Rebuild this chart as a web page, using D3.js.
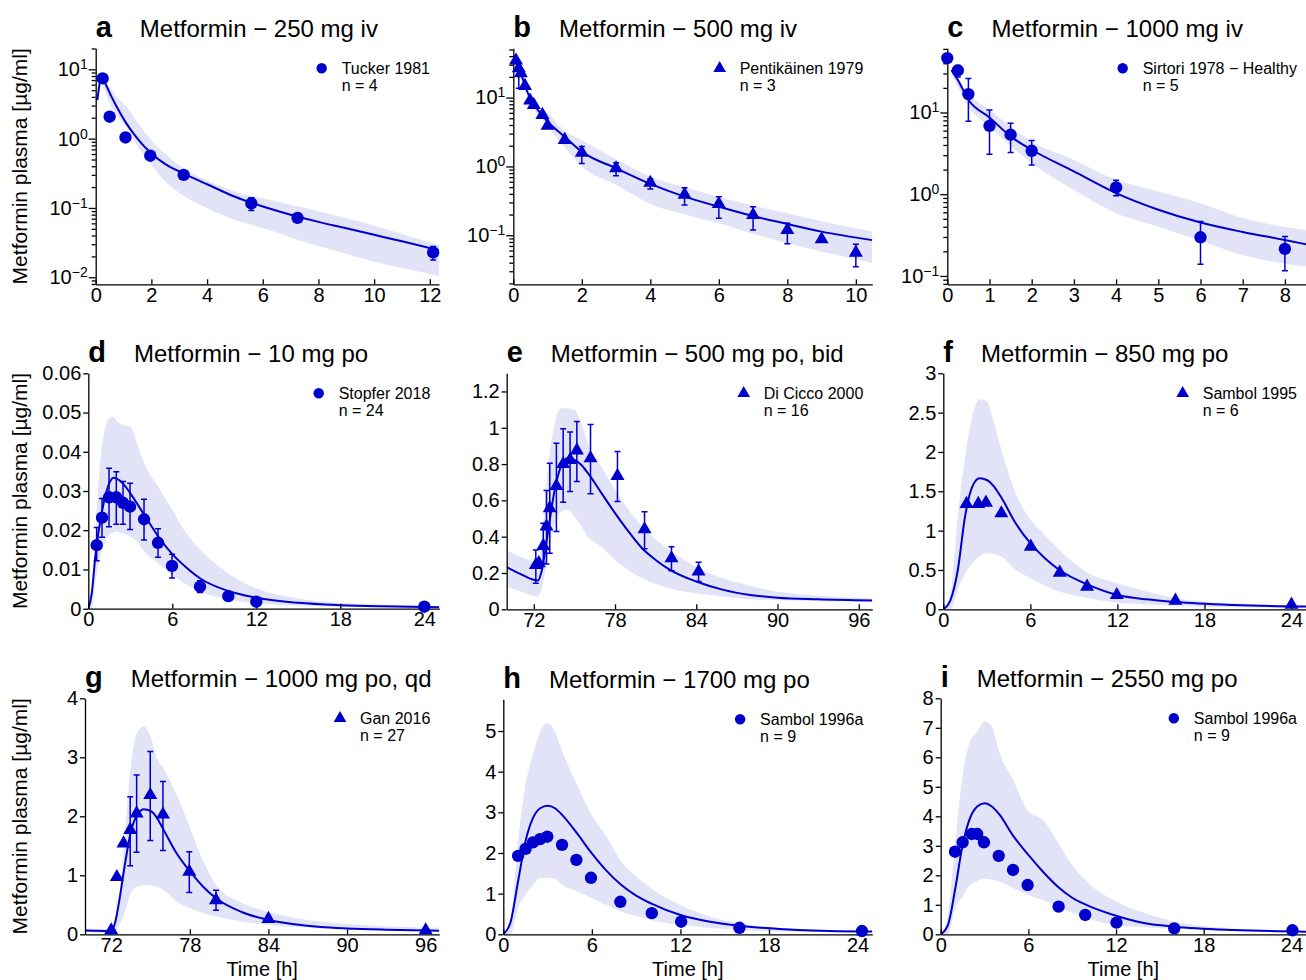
<!DOCTYPE html>
<html>
<head>
<meta charset="utf-8">
<script src="https://d3js.org/d3.v7.min.js"></script>
<style>
  body { margin: 0; background: #fff; }
  text { font-family: "Liberation Sans", Arial, Helvetica, sans-serif; }
</style>
</head>
<body>
<svg id="fig" width="1306" height="980"></svg>
<script>
// ---- data ----
// observed: [time, value, errLow, errHigh]  (no error bar -> only 2 entries)
// sim: [time, median], band: [time, low, high]

const letters = ["a", "b", "c", "d", "e", "f", "g", "h", "i"];
const titles = [
  "Metformin \u2212 250 mg iv", "Metformin \u2212 500 mg iv", "Metformin \u2212 1000 mg iv",
  "Metformin \u2212 10 mg po", "Metformin \u2212 500 mg po, bid", "Metformin \u2212 850 mg po",
  "Metformin \u2212 1000 mg po, qd", "Metformin \u2212 1700 mg po", "Metformin \u2212 2550 mg po"
];
const studies = ["Tucker 1981", "Pentik\u00e4inen 1979", "Sirtori 1978 \u2212 Healthy", "Stopfer 2018",
  "Di Cicco 2000", "Sambol 1995", "Gan 2016", "Sambol 1996a", "Sambol 1996a"];
const nLabels = ["n = 4", "n = 3", "n = 5", "n = 24", "n = 16", "n = 6", "n = 27", "n = 9", "n = 9"];
const markers = ["circle", "tri", "circle", "circle", "tri", "tri", "tri", "circle", "circle"];

const yTitle = "Metformin plasma [\u00b5g/ml]";
const xTitle = "Time [h]";

// tick values and labels
const xTicksA = [0, 2, 4, 6, 8, 10, 12];
const xTicksB = [0, 2, 4, 6, 8, 10];
const xTicksC = [0, 1, 2, 3, 4, 5, 6, 7, 8];
const xTicks24 = [0, 6, 12, 18, 24];
const xTicks72 = [72, 78, 84, 90, 96];
const yTicksA = [0.01, 0.1, 1, 10];
const yExpA = ["\u22122", "\u22121", "0", "1"];
const yTicksB = [0.1, 1, 10];
const yExpB = ["\u22121", "0", "1"];
const yTicksC = [0.1, 1, 10];
const yExpC = ["\u22121", "0", "1"];
const yTicksD = [0, 0.01, 0.02, 0.03, 0.04, 0.05, 0.06];
const yLabelsD = ["0", "0.01", "0.02", "0.03", "0.04", "0.05", "0.06"];
const yTicksE = [0, 0.2, 0.4, 0.6, 0.8, 1, 1.2];
const yLabelsE = ["0", "0.2", "0.4", "0.6", "0.8", "1", "1.2"];
const yTicksF = [0, 0.5, 1, 1.5, 2, 2.5, 3];
const yLabelsF = ["0", "0.5", "1", "1.5", "2", "2.5", "3"];
const yTicksG = [0, 1, 2, 3, 4];
const yLabelsG = ["0", "1", "2", "3", "4"];
const yTicksH = [0, 1, 2, 3, 4, 5];
const yLabelsH = ["0", "1", "2", "3", "4", "5"];
const yTicksI = [0, 1, 2, 3, 4, 5, 6, 7, 8];
const yLabelsI = ["0", "1", "2", "3", "4", "5", "6", "7", "8"];

// a - 250 mg iv
const obsA = [[0.25, 7.4], [0.5, 2.07], [1.07, 1.04], [1.96, 0.567], [3.16, 0.30],
  [5.59, 0.116, 0.092, 0.14], [7.25, 0.072], [12.12, 0.0229, 0.0178, 0.0277]];
const simA = [[0.06, 3.6], [0.21, 7.6], [0.4, 5.6], [0.57, 4.0], [0.75, 2.9], [1.1, 1.66], [1.5, 1.0],
  [2, 0.61], [2.5, 0.43], [3.15, 0.316], [4, 0.22], [5, 0.145], [6, 0.105], [7, 0.08], [8, 0.063],
  [9, 0.051], [10, 0.041], [11, 0.033], [12.33, 0.0245]];
const bandA = [[0.21, 6.6, 8.0], [0.5, 3.3, 5.6], [0.75, 2.2, 4.0], [1.1, 1.5, 2.9], [1.5, 0.78, 1.7],
  [2, 0.42, 0.95], [2.5, 0.24, 0.6], [3, 0.165, 0.41], [4, 0.1, 0.25], [5.2, 0.063, 0.162],
  [6.1, 0.05, 0.135], [7.3, 0.034, 0.105], [8.5, 0.025, 0.08], [9.7, 0.018, 0.06],
  [11, 0.0136, 0.042], [12.33, 0.0104, 0.029]];

// b - 500 mg iv
const obsB = [[0.08, 34.5], [0.16, 26.7, 13.7, 31.6], [0.22, 22.6], [0.34, 14.8], [0.49, 9.05], [0.6, 7.8],
  [0.85, 5.6], [1.0, 3.9], [1.5, 2.43], [2, 1.58, 1.1, 1.94], [3, 0.94, 0.73, 1.13], [4, 0.58, 0.47, 0.66],
  [5, 0.39, 0.275, 0.49], [6, 0.285, 0.177, 0.364], [7, 0.197, 0.119, 0.26], [8, 0.119, 0.075, 0.149],
  [9, 0.0875], [10, 0.056, 0.035, 0.074]];
const simB = [[0.02, 40], [0.1, 30], [0.2, 23.9], [0.35, 14.5], [0.5, 9.6], [0.75, 6.3], [1, 4.5],
  [1.5, 2.7], [2, 1.64], [3, 0.94], [4, 0.557], [5, 0.364], [6, 0.26], [7, 0.19], [8, 0.146],
  [9, 0.113], [10.48, 0.085]];
const bandB = [[0.02, 36, 44], [0.25, 17, 22], [0.5, 8.5, 10.5], [1, 3.8, 6.0], [1.5, 1.9, 3.3],
  [2, 1.0, 2.4], [3, 0.54, 1.27], [4, 0.285, 0.71], [5, 0.2, 0.5], [6, 0.149, 0.364],
  [7, 0.105, 0.27], [8, 0.0766, 0.209], [9, 0.058, 0.16], [10.48, 0.0398, 0.113]];

// c - 1000 mg iv
const obsC = [[0, 46.3], [0.25, 32.7, 27.1, 37.7], [0.5, 16.8, 7.8, 26], [1, 6.87, 3.09, 10.7],
  [1.5, 5.34, 3.24, 7.4], [2, 3.4, 2.28, 4.54], [4, 1.21, 0.955, 1.48], [6, 0.297, 0.139, 0.462],
  [8, 0.214, 0.116, 0.303]];
const simC = [[0.1, 33], [0.25, 25], [0.5, 14.3], [1, 8.7], [1.5, 5.1], [2, 3.5], [3, 1.9], [4, 1.03],
  [5, 0.645], [6, 0.45], [7, 0.345], [8, 0.275], [8.5, 0.244]];
const bandC = [[0.1, 30, 36.6], [0.5, 11.8, 17.2], [1, 6.7, 10.8], [2, 2.4, 4.4], [3, 1.13, 2.63],
  [4, 0.585, 1.5], [5, 0.4, 1.08], [6, 0.27, 0.776], [7, 0.18, 0.51], [8.5, 0.13, 0.366]];

// d - 10 mg po
const obsD = [[0.6, 0.0162, 0.0122, 0.0207], [0.98, 0.0232, 0.0182, 0.0281], [1.48, 0.0284, 0.0209, 0.0358],
  [2.0, 0.0284, 0.0215, 0.0349], [2.48, 0.027, 0.0215, 0.0324], [2.98, 0.026, 0.0202, 0.032],
  [3.98, 0.0228, 0.0175, 0.0279], [4.98, 0.0168, 0.0131, 0.0204], [5.98, 0.0109, 0.0078, 0.0139],
  [7.98, 0.0056, 0.0041, 0.0071], [10, 0.0032, 0.0020, 0.0043], [12, 0.0018], [24, 0.0005]];
const simD = [[0, 0], [0.25, 0.004], [0.5, 0.0133], [1, 0.0252], [1.5, 0.032], [1.8, 0.0334], [2, 0.0332],
  [2.5, 0.0318], [3, 0.0294], [4, 0.0239], [5, 0.0184], [6, 0.0139], [7, 0.0105], [8, 0.0077],
  [10, 0.0045], [12, 0.0028], [15, 0.0015], [18, 0.0009], [21, 0.0006], [25.07, 0.0004]];
const bandD = [[0, 0, 0], [0.25, 0, 0.003], [0.5, 0.0065, 0.02], [1, 0.015, 0.042], [1.5, 0.0188, 0.0485],
  [1.8, 0.0194, 0.049], [2, 0.0196, 0.048], [2.5, 0.0192, 0.0468], [3, 0.0184, 0.0464], [3.5, 0.017, 0.042],
  [4, 0.0145, 0.037], [5, 0.0116, 0.0311], [6, 0.0086, 0.0252], [7, 0.0062, 0.0192], [8, 0.0043, 0.015],
  [10, 0.0024, 0.009], [12, 0.0014, 0.0052], [15, 0.0008, 0.0026], [18, 0.0005, 0.0015], [25.07, 0.0002, 0.0007]];

// e - 500 mg po bid
const obsE = [[72.15, 0.244, 0.143, 0.327], [72.37, 0.254], [72.7, 0.349, 0.254, 0.474],
  [72.94, 0.456, 0.25, 0.654], [73.18, 0.557, 0.309, 0.805], [73.67, 0.68, 0.428, 0.915],
  [74.17, 0.80, 0.59, 0.994], [74.68, 0.823, 0.649, 0.976], [75.18, 0.875, 0.704, 1.035],
  [76.19, 0.832, 0.636, 1.018], [78.18, 0.735, 0.594, 0.869], [80.18, 0.441, 0.333, 0.538],
  [82.17, 0.281, 0.213, 0.345], [84.17, 0.208, 0.153, 0.259]];
const simE = [[70, 0.232], [71, 0.195], [72.3, 0.158], [72.6, 0.217], [73, 0.40], [73.5, 0.64], [74, 0.786],
  [74.5, 0.832], [75, 0.823], [75.5, 0.796], [76, 0.75], [77, 0.64], [78, 0.53], [79, 0.428], [80, 0.336],
  [81, 0.272], [82, 0.22], [84, 0.153], [86, 0.107], [88, 0.079], [90, 0.064], [93, 0.055], [97, 0.048]];
const bandE = [[70, 0.125, 0.327], [71, 0.1, 0.29], [72.3, 0.07, 0.263], [72.6, 0.12, 0.4], [73, 0.272, 0.75],
  [73.5, 0.456, 1.007], [74, 0.538, 1.108], [74.5, 0.548, 1.108], [75, 0.511, 1.099], [75.5, 0.46, 1.025],
  [76, 0.40, 0.915], [77, 0.345, 0.786], [78, 0.272, 0.658], [79, 0.215, 0.548], [80, 0.171, 0.456],
  [82, 0.116, 0.327], [84, 0.088, 0.235], [86, 0.07, 0.171], [88, 0.055, 0.13], [90, 0.05, 0.097],
  [97, 0.042, 0.061]];

// f - 850 mg po
const obsF = [[1.6, 1.34], [2.41, 1.34], [2.94, 1.356], [4.0, 1.22], [6.03, 0.797], [8.03, 0.466],
  [9.91, 0.288], [11.96, 0.182], [16.0, 0.11], [24, 0.059]];
const simF = [[0, 0], [0.5, 0.12], [1, 0.5], [1.5, 1.18], [2, 1.56], [2.5, 1.665], [3, 1.644], [3.5, 1.56],
  [4, 1.42], [5, 1.09], [6, 0.84], [7, 0.648], [8, 0.5], [10, 0.31], [12, 0.182], [14, 0.127],
  [16, 0.093], [20, 0.055], [25, 0.034]];
const bandF = [[0, 0, 0], [0.5, 0, 0.2], [1, 0.246, 1.18], [1.5, 0.458, 1.94], [2, 0.585, 2.45],
  [2.5, 0.67, 2.67], [3, 0.712, 2.64], [3.5, 0.7, 2.36], [4, 0.67, 2.03], [5, 0.5, 1.47], [6, 0.394, 1.14],
  [7, 0.3, 0.945], [8, 0.225, 0.754], [10, 0.14, 0.458], [12, 0.085, 0.33], [14, 0.06, 0.225],
  [16, 0.042, 0.14], [20, 0.025, 0.076], [25, 0.017, 0.042]];

// g - 1000 mg po qd
const obsG = [[72, 0.068], [72.43, 0.97], [72.94, 1.54], [73.45, 1.77, 1.16, 2.33], [73.94, 2.05, 1.39, 2.70],
  [74.98, 2.36, 1.59, 3.10], [75.95, 2.03, 1.42, 2.59], [77.96, 1.06, 0.71, 1.40], [80.0, 0.58, 0.407, 0.746],
  [84, 0.26], [96, 0.068]];
const simG = [[70, 0.065], [71, 0.06], [72, 0.05], [72.3, 0.2], [72.6, 0.55], [73, 1.12], [73.5, 1.74],
  [74, 2.03], [74.5, 2.12], [75, 2.09], [75.5, 1.97], [76, 1.77], [77, 1.37], [78, 1.07], [79, 0.81],
  [80, 0.61], [82, 0.373], [84, 0.243], [86, 0.17], [88, 0.124], [90, 0.1], [93, 0.079], [97.04, 0.062]];
const bandG = [[70, 0.045, 0.1], [72, 0.023, 0.09], [72.5, 0.1, 0.44], [73, 0.356, 1.57], [73.5, 0.695, 2.87],
  [74, 0.81, 3.43], [74.5, 0.836, 3.52], [75, 0.836, 3.35], [75.5, 0.8, 2.98], [76, 0.75, 2.81],
  [77, 0.55, 2.36], [78, 0.44, 1.82], [79, 0.36, 1.25], [80, 0.30, 0.84], [82, 0.215, 0.53],
  [84, 0.158, 0.38], [88, 0.10, 0.215], [92, 0.075, 0.147], [97.04, 0.056, 0.113]];

// h - 1700 mg po
const obsH = [[1.0, 1.93], [1.51, 2.10], [2.01, 2.26], [2.49, 2.34], [2.98, 2.40], [3.98, 2.20], [4.95, 1.83],
  [5.94, 1.39], [7.93, 0.80], [10.06, 0.52], [12.05, 0.31], [16.0, 0.16], [24.3, 0.08]];
const simH = [[0, 0], [0.5, 0.31], [1, 1.3], [1.5, 2.28], [2, 2.85], [2.5, 3.10], [3, 3.16], [3.5, 3.10],
  [4, 2.93], [5, 2.48], [6, 1.99], [7, 1.56], [8, 1.21], [9, 0.95], [10, 0.76], [12, 0.475], [14, 0.31],
  [16, 0.213], [20, 0.107], [25, 0.066]];
const bandH = [[0, 0, 0], [0.5, 0, 0.39], [1, 0.64, 2.28], [1.5, 0.97, 3.67], [2, 1.21, 4.41], [2.5, 1.38, 4.98],
  [3, 1.39, 5.19], [3.5, 1.36, 4.98], [4, 1.21, 4.49], [5, 1.05, 3.67], [6, 0.885, 2.93], [7, 0.72, 2.4],
  [8, 0.557, 1.79], [9, 0.45, 1.42], [10, 0.352, 1.13], [12, 0.23, 0.72], [14, 0.16, 0.43],
  [16, 0.107, 0.27], [20, 0.06, 0.13], [25, 0.04, 0.066]];

// i - 2550 mg po
const obsI = [[0.98, 2.80], [1.5, 3.12], [2.12, 3.40], [2.5, 3.40], [2.96, 3.12], [3.97, 2.66], [4.95, 2.18],
  [5.95, 1.67], [8.07, 0.94], [9.89, 0.655], [12.03, 0.395], [15.98, 0.203], [24.07, 0.136]];
const simI = [[0, 0], [0.5, 0.32], [1, 1.56], [1.5, 3.03], [2, 3.93], [2.5, 4.33], [3, 4.44], [3.5, 4.33],
  [4, 4.07], [5, 3.31], [6, 2.69], [7, 2.12], [8, 1.62], [9, 1.24], [10, 0.99], [12, 0.63], [14, 0.373],
  [16, 0.26], [20, 0.147], [25, 0.09]];
const bandI = [[0, 0, 0], [0.5, 0, 0.66], [1, 0.88, 3.14], [1.5, 1.28, 5.4], [2, 1.67, 6.53], [2.5, 1.81, 6.87],
  [3, 1.88, 7.21], [3.5, 1.85, 7.04], [4, 1.79, 6.19], [5, 1.56, 5.18], [6, 1.33, 4.16], [7, 1.16, 3.88],
  [8, 0.94, 3.14], [9, 0.73, 2.35], [10, 0.54, 1.79], [12, 0.32, 1.11], [14, 0.24, 0.71], [16, 0.18, 0.43],
  [20, 0.11, 0.2], [25, 0.068, 0.113]];

// ---- layout ----
const blue = "#0000cd";
const bandFill = "#e2e3f7";

// box = [left, right, top, bottom] in px
var panels = [
  { box: [95.7, 439, 48.3, 284.3], log: true, xDomain: [0, 12.33], yDomain: [0.00792, 20.1], xTicks: xTicksA, yTicks: yTicksA, yLabels: yExpA, obs: obsA, sim: simA, band: bandA },
  { box: [513.3, 872.3, 48.3, 284.3], log: true, xDomain: [0, 10.48], yDomain: [0.0194, 52], xTicks: xTicksB, yTicks: yTicksB, yLabels: yExpB, obs: obsB, sim: simB, band: bandB },
  { box: [947.3, 1306, 48.3, 284.3], log: true, xDomain: [0, 8.5], yDomain: [0.079, 61], xTicks: xTicksC, yTicks: yTicksC, yLabels: yExpC, obs: obsC, sim: simC, band: bandC },
  { box: [88.3, 439.3, 373.3, 608.7], log: false, xDomain: [0, 25.07], yDomain: [0, 0.06], xTicks: xTicks24, yTicks: yTicksD, yLabels: yLabelsD, obs: obsD, sim: simD, band: bandD },
  { box: [506.7, 872.3, 373.3, 609.3], log: false, xDomain: [70, 97], yDomain: [0, 1.3], xTicks: xTicks72, yTicks: yTicksE, yLabels: yLabelsE, obs: obsE, sim: simE, band: bandE },
  { box: [943.3, 1306, 373.3, 609.3], log: false, xDomain: [0, 25], yDomain: [0, 3], xTicks: xTicks24, yTicks: yTicksF, yLabels: yLabelsF, obs: obsF, sim: simF, band: bandF },
  { box: [85, 439.3, 698.3, 934.3], log: false, xDomain: [70, 97.04], yDomain: [0, 4], xTicks: xTicks72, yTicks: yTicksG, yLabels: yLabelsG, obs: obsG, sim: simG, band: bandG },
  { box: [503.3, 872.3, 699.3, 934.3], log: false, xDomain: [0, 25], yDomain: [0, 5.78], xTicks: xTicks24, yTicks: yTicksH, yLabels: yLabelsH, obs: obsH, sim: simH, band: bandH },
  { box: [940.7, 1306, 698.3, 934.3], log: false, xDomain: [0, 25], yDomain: [0, 8], xTicks: xTicks24, yTicks: yTicksI, yLabels: yLabelsI, obs: obsI, sim: simI, band: bandI }
];

let svg = d3.select("#fig");
svg.append("rect").attr("width", 1306).attr("height", 980).attr("fill", "#fff");

panels.forEach(drawPanel);

function styleAxis(sel, size) {
  sel.attr("font-size", size).attr("font-family", '"Liberation Sans", Arial, sans-serif');
  sel.selectAll("path, line").attr("stroke", "#000").attr("stroke-width", 1.3);
  sel.selectAll("text").attr("fill", "#000");
}

function drawPanel(p, i) {
  let [L, R, T, B] = p.box;
  let x = d3.scaleLinear().domain(p.xDomain).range([L, R]);
  let y = (p.log ? d3.scaleLog() : d3.scaleLinear()).domain(p.yDomain).range([B, T]);
  let g = svg.append("g").attr("class", "panel-" + letters[i]);

  g.append("clipPath").attr("id", "clip" + i)
    .append("rect").attr("x", L).attr("y", T).attr("width", R - L).attr("height", B - T);

  // prediction band + median curve
  g.append("path").datum(p.band)
    .attr("clip-path", `url(#clip${i})`)
    .attr("fill", bandFill)
    .attr("d", d3.area().x(d => x(d[0])).y0(d => y(d[1])).y1(d => y(d[2])).curve(d3.curveMonotoneX));

  g.append("path").datum(p.sim)
    .attr("clip-path", `url(#clip${i})`)
    .attr("fill", "none")
    .attr("stroke", blue)
    .attr("stroke-width", 2)
    .attr("d", d3.line().x(d => x(d[0])).y(d => y(d[1])).curve(d3.curveMonotoneX));

  // x axis, ticks point inward
  let xa = g.append("g").attr("transform", `translate(0,${B})`)
    .call(d3.axisBottom(x).tickValues(p.xTicks).tickFormat(d => d).tickSizeInner(-5).tickSizeOuter(0).tickPadding(3));
  styleAxis(xa, 20);

  // y axis
  if (p.log) {
    let minor = y.ticks().filter(v => Math.abs(Math.log10(v) - Math.round(Math.log10(v))) > 1e-6);
    let ym = g.append("g").attr("transform", `translate(${L},0)`)
      .call(d3.axisLeft(y).tickValues(minor).tickFormat("").tickSize(4).tickSizeOuter(0));
    ym.select(".domain").remove();
    styleAxis(ym, 20);
    let ya = g.append("g").attr("transform", `translate(${L},0)`)
      .call(d3.axisLeft(y).tickValues(p.yTicks).tickFormat("").tickSize(7).tickSizeOuter(0).tickPadding(1));
    styleAxis(ya, 20);
    ya.selectAll(".tick text").each(function (d, k) {
      let el = d3.select(this);
      el.append("tspan").text("10");
      el.append("tspan").attr("dy", "-0.5em").attr("font-size", 14).text(p.yLabels[k]);
    });
  } else {
    let ya = g.append("g").attr("transform", `translate(${L},0)`)
      .call(d3.axisLeft(y).tickValues(p.yTicks).tickFormat((d, k) => p.yLabels[k]).tickSize(5).tickSizeOuter(0).tickPadding(2));
    styleAxis(ya, 20);
  }

  // error bars
  let withErr = p.obs.filter(d => d.length > 2);
  g.append("g").attr("stroke", blue).attr("stroke-width", 1.5).attr("fill", "none")
    .selectAll("path")
    .data(withErr)
    .join("path")
    .attr("d", d => {
      let cx = x(d[0]), lo = y(d[2]), hi = y(d[3]);
      return `M${cx - 3},${lo}H${cx + 3}M${cx},${lo}V${hi}M${cx - 3},${hi}H${cx + 3}`;
    });

  // observed markers
  let isTri = markers[i] === "tri";
  let sym = d3.symbol().type(isTri ? d3.symbolTriangle : d3.symbolCircle).size(isTri ? 85 : 120);
  g.append("g").selectAll("path")
    .data(p.obs)
    .join("path")
    .attr("transform", d => `translate(${x(d[0])},${y(d[1])})`)
    .attr("d", sym)
    .attr("fill", blue);

  // panel letter + title
  let letter = g.append("text")
    .attr("x", L).attr("y", T - 11.5)
    .attr("font-size", 29).attr("font-weight", "bold")
    .text(letters[i]);
  let lw = letter.node().getComputedTextLength();
  g.append("text")
    .attr("x", L + lw + 28).attr("y", T - 11.5)
    .attr("font-size", 24)
    .text(titles[i]);

  // legend (right aligned)
  let t1 = g.append("text").attr("y", T + 25.5).attr("font-size", 16).text(studies[i]);
  let w = t1.node().getComputedTextLength();
  let tx = R - 9 - w;
  t1.attr("x", tx);
  g.append("text").attr("x", tx).attr("y", T + 43).attr("font-size", 16).text(nLabels[i]);
  let legSym = d3.symbol().type(isTri ? d3.symbolTriangle : d3.symbolCircle).size(isTri ? 70 : 85);
  g.append("path")
    .attr("transform", `translate(${tx - 20},${T + 20})`)
    .attr("d", legSym)
    .attr("fill", blue);

  // axis titles
  if (i % 3 === 0) {
    g.append("text")
      .attr("transform", `translate(27,${(T + B) / 2}) rotate(-90)`)
      .attr("text-anchor", "middle")
      .attr("font-size", 21)
      .text(yTitle);
  }
  if (i >= 6) {
    g.append("text")
      .attr("x", (L + R) / 2).attr("y", 976)
      .attr("text-anchor", "middle")
      .attr("font-size", 20)
      .text(xTitle);
  }
}
</script>
</body>
</html>
